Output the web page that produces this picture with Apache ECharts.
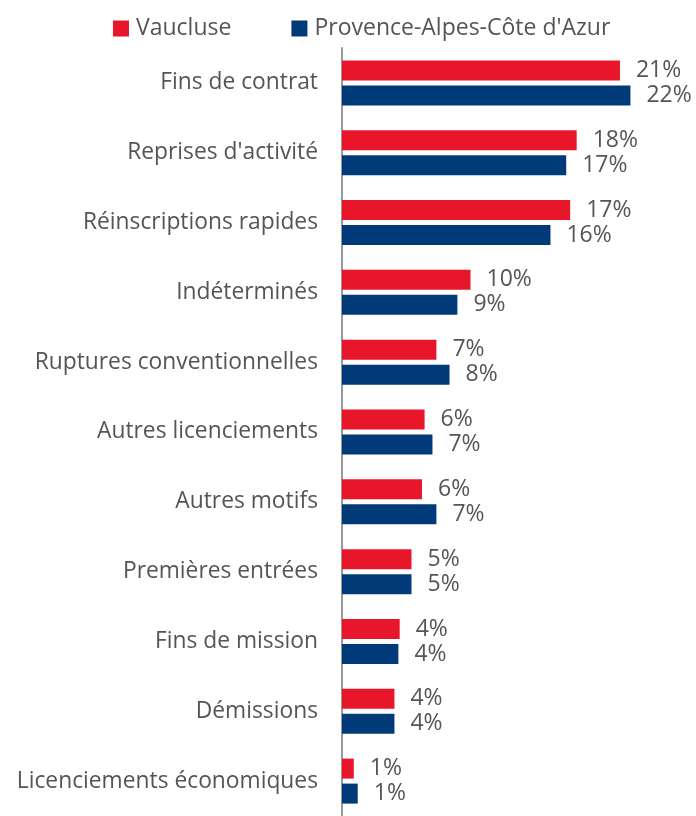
<!DOCTYPE html>
<html>
<head>
<meta charset="utf-8">
<script src="https://cdn.jsdelivr.net/npm/echarts@6/dist/echarts.min.js"></script>
<style>
  html, body { margin: 0; padding: 0; background: #fff; }
  #chart { width: 696px; height: 816px; }
</style>
</head>
<body>
<div id="chart"></div>
<script>
const categories = ['Fins de contrat', "Reprises d'activité", 'Réinscriptions rapides', 'Indéterminés',
    'Ruptures conventionnelles', 'Autres licenciements', 'Autres motifs', 'Premières entrées',
    'Fins de mission', 'Démissions', 'Licenciements économiques'];
const seriesNames = ['Vaucluse', "Provence-Alpes-Côte d'Azur"];
const vaucluseData = [21.2, 17.9, 17.4, 9.8, 7.2, 6.3, 6.1, 5.3, 4.4, 4.0, 0.9];
const pacaData = [22.0, 17.1, 15.9, 8.8, 8.2, 6.9, 7.2, 5.3, 4.3, 4.0, 1.2];

const font = 'Open Sans';
const textColor = '#555555';

const chart = echarts.init(document.getElementById('chart'));

const labelOpt = {
    show: true,
    position: 'right',
    distance: 16,
    color: textColor,
    fontFamily: font,
    fontSize: 23,
    formatter: function (p) {
        return Math.round(p.value) + '%';
    }
};

const option = {
    animation: false,
    color: ['#e8162b', '#003a78'],
    legend: {
        data: seriesNames,
        left: 108,
        top: 12,
        icon: 'rect',
        itemWidth: 16,
        itemHeight: 16,
        itemGap: 60,
        textStyle: { color: textColor, fontFamily: font, fontSize: 23, padding: [0, 0, 0, 2] }
    },
    grid: {
        left: 342,
        top: 48,
        width: 354,
        height: 778
    },
    xAxis: {
        type: 'value',
        min: 0,
        max: 27,
        show: false
    },
    yAxis: {
        type: 'category',
        data: categories,
        inverse: true,
        axisLine: { lineStyle: { color: '#999999', width: 2 } },
        axisTick: { inside: false, length: 8, lineStyle: { color: '#999999', width: 2 } },
        axisLabel: { margin: 24, color: textColor, fontFamily: font, fontSize: 22.8 }
    },
    series: [
        {
            name: seriesNames[0],
            type: 'bar',
            data: vaucluseData,
            barWidth: 20,
            barGap: '25%',
            label: labelOpt
        },
        {
            name: seriesNames[1],
            type: 'bar',
            data: pacaData,
            barWidth: 20,
            barGap: '25%',
            label: labelOpt
        }
    ]
};

chart.setOption(option);
</script>
</body>
</html>
